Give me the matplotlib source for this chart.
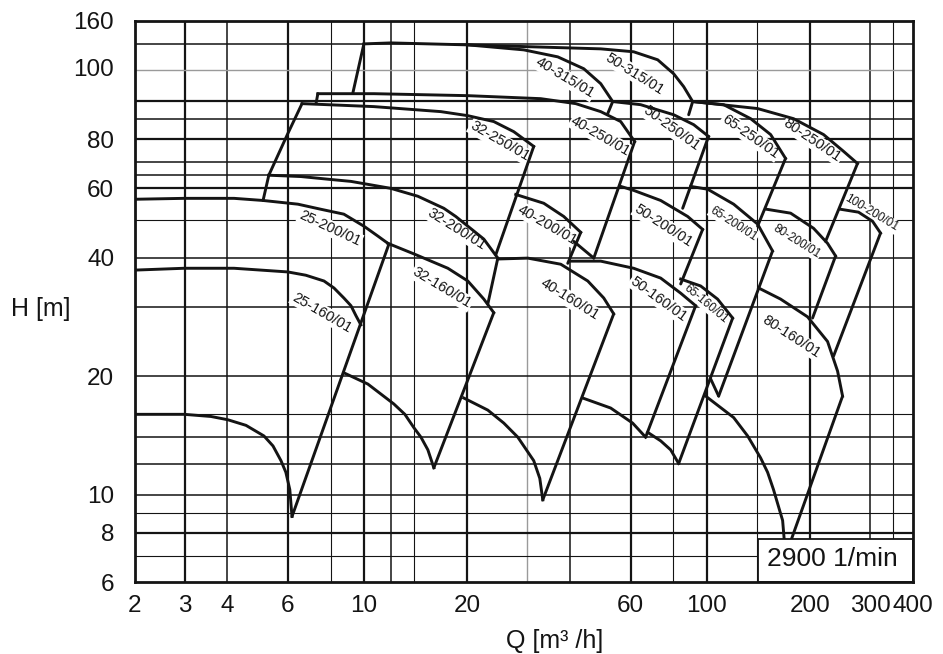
import numpy as np
import matplotlib.pyplot as plt
from matplotlib.patches import Rectangle

plt.rcParams['font.family'] = ['Liberation Sans', 'DejaVu Sans']

# --- max impeller curves, Q [m3/h] / H [m] ---
q_25_160 = [2.15, 2.99, 4.18, 6.0, 6.77, 7.65, 8.18, 8.74, 9.17, 9.48, 9.80]
h_25_160 = [37.2, 37.6, 37.6, 36.8, 36.1, 34.9, 33.5, 31.6, 30.2, 28.5, 27.0]
q_25_200 = [2.15, 2.99, 4.18, 5.08, 6.42, 7.49, 8.74, 10.0, 10.98, 11.75]
h_25_200 = [56.3, 56.6, 56.6, 55.9, 54.7, 53.1, 51.6, 48.1, 45.4, 43.5]
q_32_160 = [11.75, 13.99, 17.58, 20.1, 22.38, 23.93]
h_32_160 = [43.5, 40.9, 37.6, 34.9, 31.4, 29.0]
q_32_200 = [5.28, 6.55, 8.01, 9.17, 11.99, 14.37, 17.11, 18.54, 20.1, 22.38, 24.59]
h_32_200 = [64.8, 64.3, 63.2, 62.5, 60.0, 57.3, 53.4, 50.9, 48.1, 44.6, 39.9]
q_32_250 = [6.6, 10.69, 16.77, 20.1, 23.93, 27.37, 31.3]
h_32_250 = [98.5, 96.8, 94.0, 91.8, 88.7, 83.6, 76.7]
q_40_160 = [24.76, 30.08, 37.53, 45.0, 50.09, 53.56]
h_40_160 = [39.7, 39.9, 38.5, 34.9, 31.6, 28.8]
q_40_200 = [27.74, 33.48, 38.3, 42.93]
h_40_200 = [57.9, 55.0, 50.9, 46.4]
q_40_250 = [7.34, 10.69, 20.1, 32.81, 41.51, 49.09, 56.14, 61.65]
h_40_250 = [104.4, 104.4, 103.2, 101.4, 98.5, 94.0, 88.7, 78.9]
q_40_315 = [10.0, 11.99, 20.1, 29.28, 36.78, 43.81, 49.09, 53.2]
h_40_315 = [139.7, 140.5, 138.9, 134.9, 129.5, 120.8, 110.7, 99.7]
q_50_160 = [40.14, 49.09, 61.24, 73.44, 84.0, 92.88]
h_50_160 = [39.2, 39.2, 37.6, 35.5, 32.5, 30.2]
q_50_200 = [56.14, 61.24, 73.44, 88.04, 97.35]
h_50_200 = [60.7, 59.3, 55.9, 50.9, 47.2]
q_50_250 = [53.2, 64.18, 80.13, 91.65, 101.3]
h_50_250 = [99.7, 97.9, 92.3, 87.1, 81.3]
q_50_315 = [20.1, 31.3, 49.09, 61.24, 71.97, 80.13, 85.7, 91.04]
h_50_315 = [138.9, 137.3, 135.7, 133.4, 127.3, 117.3, 108.8, 99.7]
q_65_160 = [84.0, 96.05, 107.6, 119.1]
h_65_160 = [35.3, 33.9, 31.4, 28.1]
q_65_200 = [89.83, 100.7, 119.9, 140.8, 155.7]
h_65_200 = [60.7, 59.7, 54.7, 48.7, 41.6]
q_65_250 = [91.04, 112.1, 134.4, 153.7, 169.9]
h_65_250 = [99.7, 97.9, 90.2, 82.2, 71.5]
q_80_160 = [141.8, 164.3, 197.0, 225.3, 241.0, 249.2]
h_80_160 = [33.5, 31.4, 28.3, 24.5, 20.6, 17.8]
q_80_200 = [149.6, 175.8, 205.1, 225.3, 237.8]
h_80_200 = [53.1, 51.9, 47.5, 43.5, 40.4]
q_80_250 = [91.04, 140.8, 179.3, 219.3, 250.9, 275.5]
h_80_250 = [99.7, 95.7, 90.2, 82.2, 74.5, 69.4]
q_100_200 = [245.9, 277.4, 304.8, 321.6]
h_100_200 = [53.1, 52.2, 49.5, 46.2]

# --- min impeller curves of the 160 series ---
q_min_25 = [2.15, 2.99, 3.58, 4.01, 4.53, 5.11, 5.43, 5.73, 5.92, 6.08, 6.17]
h_min_25 = [16.0, 16.0, 15.8, 15.5, 15.0, 14.1, 13.3, 12.2, 11.4, 10.3, 8.8]
q_min_32 = [8.74, 10.27, 12.23, 13.17, 13.99, 14.67, 15.37, 16.0]
h_min_32 = [20.4, 19.1, 17.0, 16.0, 14.8, 14.0, 13.0, 11.7]
q_min_40 = [19.57, 22.99, 25.6, 28.12, 31.3, 32.6, 33.26]
h_min_40 = [17.6, 16.4, 15.2, 14.0, 12.2, 11.0, 9.7]
q_min_50 = [43.51, 52.49, 60.83, 66.37]
h_min_50 = [17.6, 16.6, 15.2, 14.0]
q_min_65 = [67.3, 73.44, 78.52, 82.86]
h_min_65 = [14.4, 13.7, 13.0, 12.0]
q_min_80 = [99.34, 119.9, 131.7, 143.7, 150.6, 156.7, 166.6, 169.9]
h_min_80 = [17.8, 15.7, 14.1, 12.4, 11.4, 10.3, 8.6, 7.0]

# --- tile edges (straight limits between fields) ---
edge_q = [[11.83, 6.17], [23.93, 16.0], [53.56, 33.26], [92.88, 66.37],
          [119.1, 82.86], [249.2, 169.9], [24.59, 22.99], [42.93, 39.34],
          [97.35, 84.0], [155.7, 108.4], [237.8, 203.7], [321.6, 234.6],
          [31.3, 24.26], [61.65, 46.85], [101.3, 85.13], [169.9, 140.8],
          [275.5, 222.3], [53.2, 51.45], [91.04, 88.63], [10.0, 9.29],
          [7.34, 7.25], [6.6, 6.0, 5.28], [5.28, 5.08], [40.96, 46.85],
          [102.7, 108.4]]
edge_h = [[43.3, 8.8], [29.0, 11.7], [28.8, 9.7], [30.2, 14.0],
          [28.1, 12.0], [17.8, 7.0], [39.9, 30.5], [46.4, 38.7],
          [47.2, 34.3], [41.6, 17.8], [40.4, 28.1], [46.2, 22.5],
          [76.7, 40.7], [78.9, 39.9], [81.3, 53.4], [71.5, 48.1],
          [69.4, 44.0], [99.7, 92.9], [99.7, 92.3], [139.7, 105.0],
          [104.4, 98.5], [98.5, 82.7, 64.8], [64.8, 55.9], [44.0, 39.9],
          [19.7, 17.8]]

labels = ['25-160/01', '25-200/01', '32-160/01', '32-200/01', '32-250/01',
          '40-315/01', '40-250/01', '50-315/01', '50-250/01', '65-250/01',
          '80-250/01', '40-200/01', '40-160/01', '50-200/01', '50-160/01',
          '65-200/01', '65-160/01', '80-200/01', '80-160/01', '100-200/01']
label_q = [7.54, 7.96, 16.88, 18.67, 24.9, 38.5, 49.1, 61.65, 79.0, 134.4,
           203.7, 34.4, 39.9, 74.9, 72.4, 119.9, 99.3, 183.0, 177.0, 302.7]
label_h = [29.0, 47.5, 33.5, 47.2, 78.9, 114.6, 81.3, 117.3, 85.1, 81.3,
           79.4, 48.4, 31.3, 48.1, 31.4, 48.7, 30.6, 44.0, 25.2, 51.9]
label_rot = [-30, -25, -31, -32, -30, -31, -30, -32, -36, -35,
             -34, -30, -32, -33, -36, -33, -40, -32, -33, -31]
small_labels = ['65-200/01', '65-160/01', '80-200/01', '100-200/01']

x_ticks = [2.149, 3, 4, 6, 10, 20, 60, 100, 200, 300, 400]
x_tick_labels = ['2', '3', '4', '6', '10', '20', '60', '100', '200', '300', '400']
y_ticks = [6, 8, 10, 20, 40, 60, 80, 122, 160]
y_tick_labels = ['6', '8', '10', '20', '40', '60', '80', '100', '160']

vgrid_thick = [3, 6, 10, 20, 60, 100, 200]
vgrid_mid = [4, 12, 40, 300]
vgrid_thin = [8, 14, 80, 140, 350]
vgrid_gray = [30]
hgrid_thick = [8, 60, 80, 100]
hgrid_mid = [10, 12, 14, 20, 30, 40, 65, 70, 90, 140]
hgrid_thin = [7, 9, 16, 50]
hgrid_gray = [120]

max_curves = [(q_25_160, h_25_160), (q_25_200, h_25_200), (q_32_160, h_32_160),
              (q_32_200, h_32_200), (q_32_250, h_32_250), (q_40_160, h_40_160),
              (q_40_200, h_40_200), (q_40_250, h_40_250), (q_40_315, h_40_315),
              (q_50_160, h_50_160), (q_50_200, h_50_200), (q_50_250, h_50_250),
              (q_50_315, h_50_315), (q_65_160, h_65_160), (q_65_200, h_65_200),
              (q_65_250, h_65_250), (q_80_160, h_80_160), (q_80_200, h_80_200),
              (q_80_250, h_80_250), (q_100_200, h_100_200)]
min_curves = [(q_min_25, h_min_25), (q_min_32, h_min_32), (q_min_40, h_min_40),
              (q_min_50, h_min_50), (q_min_65, h_min_65), (q_min_80, h_min_80)]

ink = '#141414'

fig = plt.figure(figsize=(9.43, 6.54), dpi=100)
ax = fig.add_axes([0.14316, 0.11009, 0.82503, 0.85826])
ax.set_xscale('log')
ax.set_yscale('log')
ax.set_xlim(2.149, 400)
ax.set_ylim(6, 160)

for v in vgrid_thick:
    ax.axvline(v, color=ink, lw=1.6, zorder=1)
for v in vgrid_mid:
    ax.axvline(v, color=ink, lw=1.1, zorder=1)
for v in vgrid_thin:
    ax.axvline(v, color=ink, lw=0.8, zorder=1)
for v in vgrid_gray:
    ax.axvline(v, color='#9a9a9a', lw=1.0, zorder=1)
for h in hgrid_thick:
    ax.axhline(h, color=ink, lw=1.6, zorder=1)
for h in hgrid_mid:
    ax.axhline(h, color=ink, lw=1.1, zorder=1)
for h in hgrid_thin:
    ax.axhline(h, color=ink, lw=0.8, zorder=1)
for h in hgrid_gray:
    ax.axhline(h, color='#9a9a9a', lw=1.0, zorder=1)

for q, h in max_curves + min_curves:
    ax.plot(q, h, color=ink, lw=2.1, zorder=3, solid_joinstyle='round')
for q, h in zip(edge_q, edge_h):
    ax.plot(q, h, color=ink, lw=2.1, zorder=3, solid_capstyle='round')

for name, q, h, r in zip(labels, label_q, label_h, label_rot):
    fs = 8.5 if name in small_labels else 10.5
    ax.text(q, h, name, rotation=r, rotation_mode='anchor', ha='center',
            va='center', fontsize=fs, color=ink, zorder=2.5,
            bbox=dict(boxstyle='square,pad=0.08', fc='white', ec='none'))

ax.add_patch(Rectangle((0.801, 0.0), 0.199, 0.0765, transform=ax.transAxes,
                       fc='white', ec=ink, lw=1.3, zorder=4))
ax.text(0.896, 0.041, '2900 1/min', transform=ax.transAxes, ha='center',
        va='center', fontsize=19, color=ink, zorder=5)

ax.xaxis.set_minor_locator(plt.NullLocator())
ax.yaxis.set_minor_locator(plt.NullLocator())
ax.set_xticks(x_ticks)
ax.set_xticklabels(x_tick_labels)
ax.set_yticks(y_ticks)
ax.set_yticklabels(y_tick_labels)
ax.tick_params(axis='both', length=0, labelsize=17.5, labelcolor=ink)
ax.tick_params(axis='x', pad=9)
ax.tick_params(axis='y', pad=15)
for s in ax.spines.values():
    s.set_linewidth(2.0)
    s.set_color(ink)
    s.set_zorder(6)

fig.text(41 / 943, 1 - 309 / 654, 'H [m]', ha='center', va='center',
         fontsize=18, color=ink)
fig.text(555 / 943, 1 - 641 / 654, 'Q [m³ /h]', ha='center', va='center',
         fontsize=18, color=ink)

fig.savefig('out.png', dpi=100)
